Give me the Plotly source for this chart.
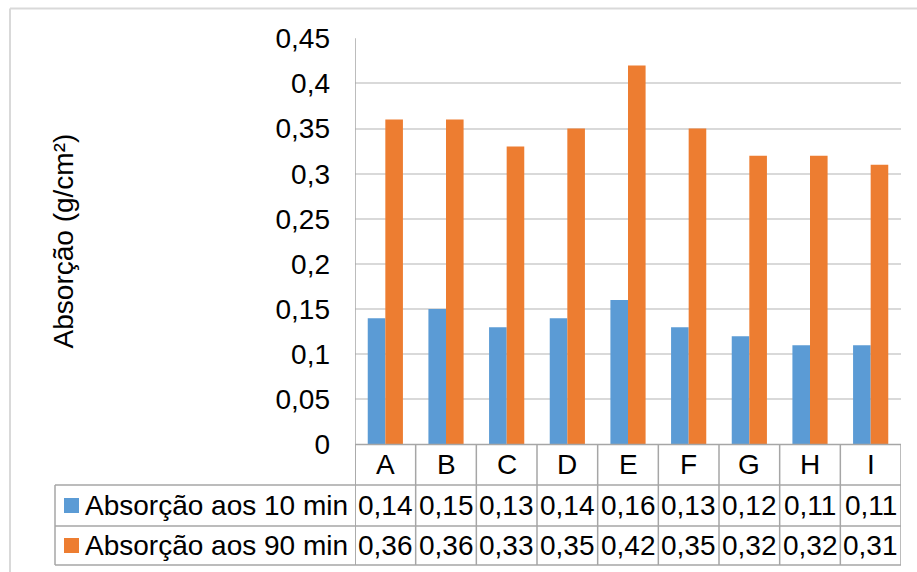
import plotly.graph_objects as go

categories = ["A", "B", "C", "D", "E", "F", "G", "H", "I"]
series_names = ["Absorção aos 10 min", "Absorção aos 90 min"]
abs_10 = [0.14, 0.15, 0.13, 0.14, 0.16, 0.13, 0.12, 0.11, 0.11]
abs_90 = [0.36, 0.36, 0.33, 0.35, 0.42, 0.35, 0.32, 0.32, 0.31]
colors = ["#5B9BD5", "#ED7D31"]
y_title = "Absorção (g/cm²)"

W, H = 917, 572
FONT = "Liberation Sans, Arial, sans-serif"
FS = 28

def px(x):
    return x / W

def py(y):
    return 1 - y / H

plot_left, plot_right = 355, 901
plot_top, plot_bottom = 38.3, 444.5
row_lines = [485, 526, 565]
table_left = 55
border_col = "#A6A6A6"

fig = go.Figure()
idx = list(range(len(categories)))
for name, vals, col in zip(series_names, [abs_10, abs_90], colors):
    fig.add_trace(go.Bar(x=idx, y=vals, name=name, marker_color=col,
                         marker_line_width=0, showlegend=False))

shapes = []
# outer chart border (top and left)
shapes.append(dict(type="line", xref="paper", yref="paper", x0=px(10), x1=1.05,
                   y0=py(8.5), y1=py(8.5), line=dict(color="#D9D9D9", width=2)))
shapes.append(dict(type="line", xref="paper", yref="paper", x0=px(10), x1=px(10),
                   y0=py(8.5), y1=-0.05, line=dict(color="#D9D9D9", width=2)))
# baseline / table top
shapes.append(dict(type="line", xref="x", yref="paper", x0=-0.5, x1=len(categories) - 0.5,
                   y0=py(plot_bottom), y1=py(plot_bottom), line=dict(color=border_col, width=1.5)))
# row lines spanning the legend column too
for ry in row_lines:
    shapes.append(dict(type="line", xref="paper", yref="paper", x0=px(table_left), x1=px(plot_right),
                       y0=py(ry), y1=py(ry), line=dict(color=border_col, width=1.5)))
# left border of legend column
shapes.append(dict(type="line", xref="paper", yref="paper", x0=px(table_left), x1=px(table_left),
                   y0=py(row_lines[0]), y1=py(row_lines[-1]), line=dict(color=border_col, width=1.5)))
# category separators
for i in range(len(categories) + 1):
    shapes.append(dict(type="line", xref="x", yref="paper", x0=i - 0.5, x1=i - 0.5,
                       y0=py(plot_bottom), y1=py(row_lines[-1]), line=dict(color=border_col, width=1.5)))
# left axis line extending down through table
shapes.append(dict(type="line", xref="x", yref="paper", x0=-0.5, x1=-0.5,
                   y0=py(plot_top), y1=py(row_lines[-1]), line=dict(color=border_col, width=1.5)))
# legend swatches
row_centers = [(row_lines[0] + row_lines[1]) / 2, (row_lines[1] + row_lines[2]) / 2]
for rc, col in zip(row_centers, colors):
    shapes.append(dict(type="rect", xref="paper", yref="paper", x0=px(64), x1=px(79),
                       y0=py(rc + 7.5), y1=py(rc - 7.5), fillcolor=col, line=dict(width=0)))

annotations = []
cat_center = (plot_bottom + row_lines[0]) / 2
for i, c in enumerate(categories):
    annotations.append(dict(x=i, y=py(cat_center), xref="x", yref="paper", text=c,
                            showarrow=False, font=dict(family=FONT, size=FS, color="#000"),
                            xanchor="center", yanchor="middle"))
for rc, name, vals in zip(row_centers, series_names, [abs_10, abs_90]):
    annotations.append(dict(x=px(83), y=py(rc), xref="paper", yref="paper", text=name,
                            showarrow=False, font=dict(family=FONT, size=FS, color="#000"),
                            xanchor="left", yanchor="middle"))
    for i, v in enumerate(vals):
        annotations.append(dict(x=i, y=py(rc), xref="x", yref="paper",
                                text=f"{v:.2f}".replace(".", ","),
                                showarrow=False, font=dict(family=FONT, size=FS, color="#000"),
                                xanchor="center", yanchor="middle"))
annotations.append(dict(x=px(63), y=py((plot_top + plot_bottom) / 2), xref="paper", yref="paper",
                        text=y_title, textangle=-90, showarrow=False,
                        font=dict(family=FONT, size=FS, color="#000"),
                        xanchor="center", yanchor="middle"))

fig.update_layout(
    width=W, height=H, autosize=False,
    margin=dict(l=0, r=0, t=0, b=0, pad=0, autoexpand=False),
    paper_bgcolor="white", plot_bgcolor="white",
    separators=",.",
    barmode="group", bargap=0.42, bargroupgap=0,
    font=dict(family=FONT, size=FS, color="#000"),
    shapes=shapes, annotations=annotations,
    xaxis=dict(domain=[px(plot_left), px(plot_right)], range=[-0.5, len(categories) - 0.5],
               showticklabels=False, showgrid=False, zeroline=False, showline=False, ticks="",
               automargin=False),
    yaxis=dict(domain=[py(plot_bottom), py(plot_top)], range=[0, 0.45], dtick=0.05, tick0=0,
               showgrid=True, gridcolor="#D9D9D9", gridwidth=1.5, zeroline=False,
               showline=False, ticks="", ticklabelstandoff=24, automargin=False,
               tickfont=dict(family=FONT, size=FS, color="#000")),
)

fig.write_html("out.html")
